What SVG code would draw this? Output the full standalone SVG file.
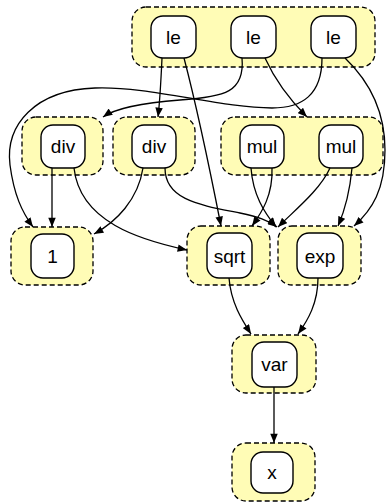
<svg xmlns="http://www.w3.org/2000/svg" width="389" height="502" viewBox="0 0 389 502">
  <defs>
    <marker id="arrow" viewBox="0 0 10 8" refX="10" refY="4" markerWidth="10" markerHeight="7.5" markerUnits="userSpaceOnUse" orient="auto">
      <path d="M0,0 L10,4 L0,8 Z" fill="#000"/>
    </marker>
  </defs>
  <style>
    .cluster { fill: #fffcb6; stroke: #000; stroke-width: 1.3; stroke-dasharray: 5 3; }
    .node rect { fill: #fff; stroke: #000; stroke-width: 1.4; }
    .node text { font-family: "Liberation Sans", Arial, sans-serif; font-size: 19px; text-anchor: middle; dominant-baseline: central; fill: #000; }
    .edge { fill: none; stroke: #000; stroke-width: 1.3; marker-end: url(#arrow); }
  </style>

  <!-- clusters -->
  <g id="clusters">
    <rect class="cluster" x="132" y="7" width="243" height="60" rx="14"/>
    <rect class="cluster" x="22" y="117" width="81" height="58" rx="14"/>
    <rect class="cluster" x="113" y="117" width="82" height="58" rx="14"/>
    <rect class="cluster" x="221" y="117" width="162" height="58" rx="14"/>
    <rect class="cluster" x="11" y="227" width="82" height="58" rx="14"/>
    <rect class="cluster" x="187" y="226" width="83" height="59" rx="14"/>
    <rect class="cluster" x="278" y="226" width="83" height="59" rx="14"/>
    <rect class="cluster" x="232" y="335" width="84" height="58" rx="14"/>
    <rect class="cluster" x="232" y="443" width="83" height="58" rx="14"/>
  </g>

  <!-- connectors -->
  <g id="edges">
    <path class="edge" d="M162,58 C161,80 160,100 158,117"/>
    <path class="edge" d="M184,58 C195,100 210,170 221,226"/>
    <path class="edge" d="M242,58 C245,92 225,97 180,100 C140,103 116,108 103,117"/>
    <path class="edge" d="M265,58 C275,80 290,100 307,117"/>
    <path class="edge" d="M322,58 C322,95 302,108 272,108 C220,108 150,86 95,88 C35,90 5,125 10,165 C14,195 22,212 33,227"/>
    <path class="edge" d="M345,58 C368,80 385,110 385,150 C385,190 372,210 354,226"/>
    <path class="edge" d="M52,168 L52,227"/>
    <path class="edge" d="M74,168 C80,222 140,240 187,250"/>
    <path class="edge" d="M143,168 C138,200 116,222 94,234"/>
    <path class="edge" d="M165,168 C165,200 200,205 240,213 C258,217 268,220 277,227"/>
    <path class="edge" d="M251,168 C253,195 264,212 276,227"/>
    <path class="edge" d="M272,168 C273,195 262,212 252,226"/>
    <path class="edge" d="M330,168 C320,190 295,210 278,227"/>
    <path class="edge" d="M352,168 C350,190 345,210 338,226"/>
    <path class="edge" d="M229,278 C231,303 242,320 251,334"/>
    <path class="edge" d="M318,278 C318,303 308,320 298,334"/>
    <path class="edge" d="M274,387 L274,443"/>
  </g>

  <!-- nodes -->
  <g id="le1" class="node"><rect x="151" y="16" width="45" height="42" rx="12"/><text x="173.5" y="37">le</text></g>
  <g id="le2" class="node"><rect x="231" y="16" width="45" height="42" rx="12"/><text x="253.5" y="37">le</text></g>
  <g id="le3" class="node"><rect x="311" y="16" width="45" height="42" rx="12"/><text x="333.5" y="37">le</text></g>
  <g id="div1" class="node"><rect x="41" y="125" width="44" height="43" rx="12"/><text x="63" y="146.5">div</text></g>
  <g id="div2" class="node"><rect x="132" y="125" width="44" height="43" rx="12"/><text x="154" y="146.5">div</text></g>
  <g id="mul1" class="node"><rect x="240" y="125" width="44" height="43" rx="12"/><text x="262" y="146.5">mul</text></g>
  <g id="mul2" class="node"><rect x="319" y="125" width="44" height="43" rx="12"/><text x="341" y="146.5">mul</text></g>
  <g id="one" class="node"><rect x="31" y="234" width="43" height="44" rx="12"/><text x="52.5" y="256">1</text></g>
  <g id="sqrt" class="node"><rect x="207" y="233" width="45" height="45" rx="12"/><text x="229.5" y="256">sqrt</text></g>
  <g id="exp" class="node"><rect x="297" y="233" width="46" height="45" rx="12"/><text x="320" y="256">exp</text></g>
  <g id="var" class="node"><rect x="252" y="342" width="45" height="45" rx="12"/><text x="274.5" y="364.5">var</text></g>
  <g id="x" class="node"><rect x="251" y="452" width="42" height="41" rx="12"/><text x="272" y="472.5">x</text></g>
</svg>
